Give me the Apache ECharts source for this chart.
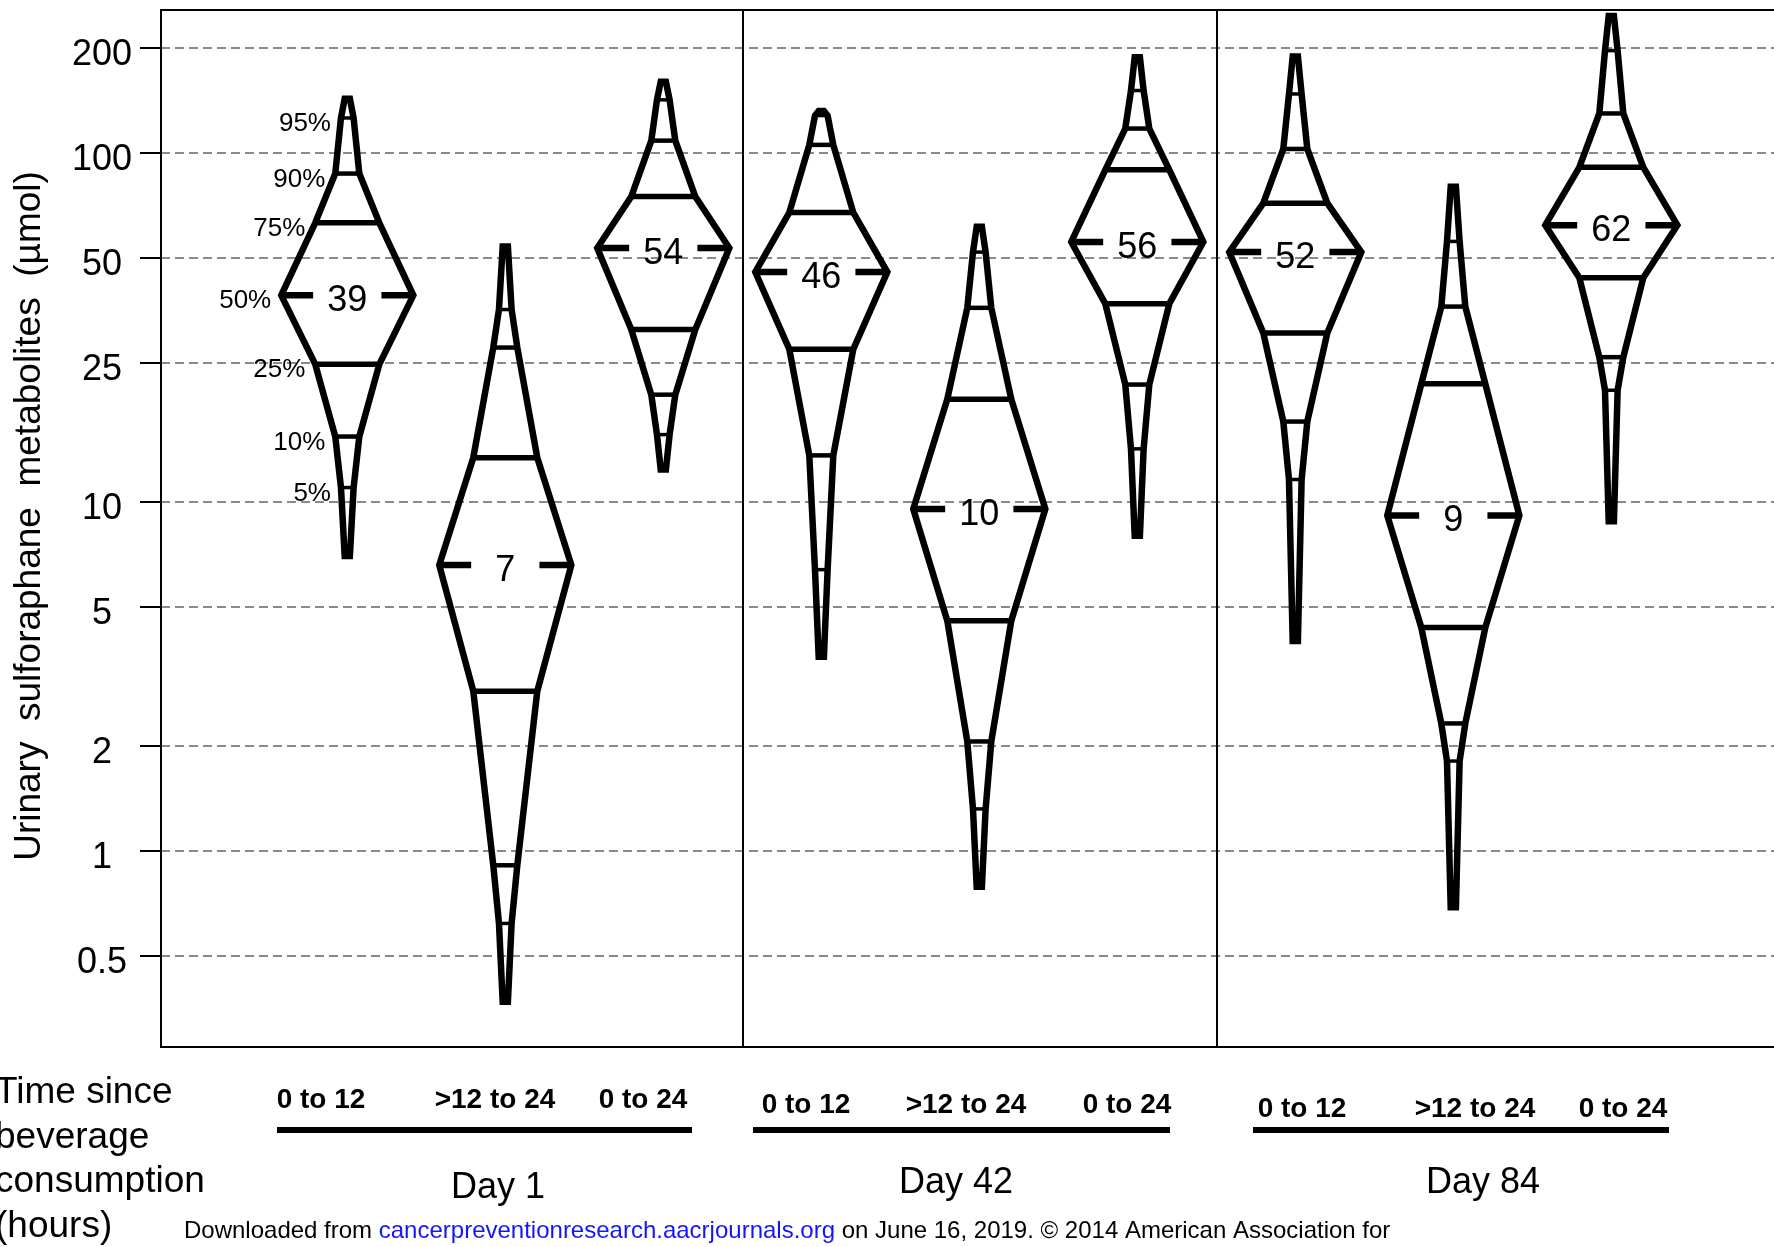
<!DOCTYPE html>
<html>
<head>
<meta charset="utf-8">
<title>Urinary sulforaphane metabolites</title>
<script src="https://cdn.jsdelivr.net/npm/echarts@6.0.0/dist/echarts.min.js"></script>
<style>
  html, body { margin: 0; padding: 0; background: #fff; }
  #chart { width: 1774px; height: 1247px; }
</style>
</head>
<body>
<div id="chart"></div>
<script>
// diamond plots of urinary sulforaphane metabolites, log scale
var chart = echarts.init(document.getElementById('chart'));

var FONT = "'Liberation Sans', Arial, sans-serif";

var tickValues = [0.5, 1, 2, 5, 10, 25, 50, 100, 200];
var categories = ['0 to 12', '>12 to 24', '0 to 24', '0 to 12', '>12 to 24', '0 to 24', '0 to 12', '>12 to 24', '0 to 24'];
var days = ['Day 1', 'Day 42', 'Day 84'];
var pctNames = ['5%', '10%', '25%', '50%', '75%', '90%', '95%'];
var medianLabels = [39, 7, 54, 46, 10, 56, 52, 9, 62];

// percentiles (µmol)
var pMin = [7.0, 0.37, 12.4, 3.6, 0.79, 8.0, 4.0, 0.69, 8.8];
var p05 = [11.0, 0.62, 15.6, 6.4, 1.32, 14.2, 11.6, 1.81, 20.9];
var p10 = [15.4, 0.91, 20.3, 13.6, 2.06, 21.7, 17.0, 2.32, 26.0];
var p25 = [24.8, 2.87, 31.2, 27.4, 4.57, 37.0, 30.5, 4.37, 43.9];
var p50 = [39.1, 6.6, 53.4, 45.6, 9.55, 55.6, 52.0, 9.15, 62.1];
var p75 = [63.1, 13.4, 75.0, 67.5, 19.7, 89.5, 71.8, 21.8, 91.0];
var p90 = [87.3, 27.7, 108.5, 105.5, 36.0, 117.5, 102.7, 36.3, 129.8];
var p95 = [126, 35.6, 142, 128, 52, 151, 147.6, 55.8, 196.5];
var pMax = [143, 54, 160, 132, 61.5, 188, 189, 80, 247];

// shape of a diamond: half width (x units) and stroke per level, min..max
var halfW = [0.0165, 0.04, 0.076, 0.2025, 0.418, 0.2025, 0.076, 0.04, 0.0165];
var levelWidth = [0, 3.5, 4.5, 5.5, 6.5, 5.5, 4.5, 3.5, 0];
var medianInner = 0.216;

var log10 = function (v) { return Math.log(v) / Math.LN10; };

var diamondData = categories.map(function (c, i) {
  return [i, pMin[i], p05[i], p10[i], p25[i], p50[i], p75[i], p90[i], p95[i], pMax[i]].map(function (v, k) {
    return k === 0 ? v : log10(v);
  });
});

function renderDiamond(params, api) {
  var i = api.value(0);
  var lv = [];
  for (var k = 0; k < 9; k++) lv.push(api.value(k + 1));
  var left = [], right = [];
  for (var k = 0; k < 9; k++) {
    left.push(api.coord([i - halfW[k], lv[k]]));
    right.unshift(api.coord([i + halfW[k], lv[k]]));
  }
  var children = [{
    type: 'polygon',
    shape: { points: left.concat(right) },
    style: { fill: 'none', stroke: '#000', lineWidth: 6.5, lineJoin: 'miter' }
  }];
  [1, 2, 3, 5, 6, 7].forEach(function (k) {
    var a = api.coord([i - halfW[k], lv[k]]);
    var b = api.coord([i + halfW[k], lv[k]]);
    children.push({
      type: 'line',
      shape: { x1: a[0], y1: a[1], x2: b[0], y2: b[1] },
      style: { stroke: '#000', lineWidth: levelWidth[k] }
    });
  });
  // broken median line with the value in the gap
  [-1, 1].forEach(function (s) {
    var a = api.coord([i + s * halfW[4], lv[4]]);
    var b = api.coord([i + s * medianInner, lv[4]]);
    children.push({
      type: 'line',
      shape: { x1: a[0], y1: a[1], x2: b[0], y2: b[1] },
      style: { stroke: '#000', lineWidth: levelWidth[4] }
    });
  });
  var m = api.coord([i, lv[4]]);
  children.push({
    type: 'text', x: m[0], y: m[1] + 6,
    style: { text: String(medianLabels[params.dataIndex]), fill: '#000', fontSize: 36, fontFamily: FONT, align: 'center', verticalAlign: 'middle' }
  });
  // percentile names on the first diamond only
  if (params.dataIndex === 0) {
    pctNames.forEach(function (name, j) {
      var k = j + 1;
      var p = api.coord([i - halfW[k], lv[k]]);
      children.push({
        type: 'text', x: p[0] - 10, y: p[1] + 6,
        style: { text: name, fill: '#000', fontSize: 26, fontFamily: FONT, align: 'right', verticalAlign: 'middle' }
      });
    });
  }
  return { type: 'group', children: children };
}

// bottom annotations (pixel layout)
var subLabelX = [321, 495, 643, 806, 966, 1127, 1302, 1475, 1623];
var subLabelY = [1100, 1105, 1109];
var dayX = [498, 956, 1483];
var dayY = [1188, 1183, 1183];
var underline = [[277, 692], [753, 1170], [1253, 1669]];
var leftLines = ['Time since', 'beverage', 'consumption', '(hours)'];

var graphics = [];
graphics.push({
  type: 'text', x: 30, y: 516, rotation: Math.PI / 2,
  style: { text: 'Urinary  sulforaphane  metabolites  (µmol)', fill: '#000', fontSize: 37, fontFamily: FONT, align: 'center', verticalAlign: 'middle' }
});
categories.forEach(function (c, i) {
  graphics.push({
    type: 'text', x: subLabelX[i], y: subLabelY[Math.floor(i / 3)],
    style: { text: c, fill: '#000', fontSize: 28, fontWeight: 'bold', fontFamily: FONT, align: 'center', verticalAlign: 'middle' }
  });
});
days.forEach(function (d, j) {
  graphics.push({
    type: 'text', x: dayX[j], y: dayY[j],
    style: { text: d, fill: '#000', fontSize: 36, fontFamily: FONT, align: 'center', verticalAlign: 'middle' }
  });
  graphics.push({
    type: 'line', shape: { x1: underline[j][0], y1: 1130, x2: underline[j][1], y2: 1130 },
    style: { stroke: '#000', lineWidth: 6 }
  });
});
leftLines.forEach(function (t, j) {
  graphics.push({
    type: 'text', x: -5, y: 1093 + j * 44.5,
    style: { text: t, fill: '#000', fontSize: 37, fontFamily: FONT, align: 'left', verticalAlign: 'middle' }
  });
});
graphics.push({
  type: 'text', x: 184, y: 1231,
  style: {
    text: '{a|Downloaded from }{b|cancerpreventionresearch.aacrjournals.org}{a| on June 16, 2019. © 2014 American Association for}',
    align: 'left', verticalAlign: 'middle',
    rich: {
      a: { fill: '#000', fontSize: 24, fontFamily: FONT },
      b: { fill: '#1414ff', fontSize: 24, fontFamily: FONT }
    }
  }
});
graphics.push({
  type: 'text', x: 786, y: 1259,
  style: { text: 'Cancer Research.', fill: '#000', fontSize: 24, fontFamily: FONT, align: 'center', verticalAlign: 'middle' }
});

var tickLogs = tickValues.map(log10);

var option = {
  animation: false,
  backgroundColor: '#fff',
  grid: {
    left: 161, right: -1, top: 10, bottom: 200,
    show: true, borderColor: '#000', borderWidth: 2,
    containLabel: false, outerBoundsMode: 'none'
  },
  xAxis: { type: 'value', min: -1.179, max: 9.036, show: false },
  yAxis: {
    type: 'value', min: -0.5616, max: 2.4097,
    axisLine: { show: true, onZero: false, lineStyle: { color: '#000', width: 2 } },
    axisTick: { show: true, inside: false, length: 21, customValues: tickLogs, lineStyle: { color: '#000', width: 2 } },
    axisLabel: {
      customValues: tickLogs,
      formatter: function (v) { return '{t|' + (+Math.pow(10, v).toPrecision(3)) + '}'; },
      align: 'center', verticalAlign: 'middle', margin: 59,
      rich: {
        t: { color: '#000', fontSize: 36, fontFamily: FONT, padding: [14, 0, 0, 0] }
      }
    },
    splitLine: { show: true, lineStyle: { color: '#8a8a8a', width: 2, type: [9, 5] } }
  },
  series: [
    {
      type: 'custom',
      renderItem: renderDiamond,
      encode: { x: 0, y: [1, 2, 3, 4, 5, 6, 7, 8, 9] },
      data: diamondData,
      z: 5
    },
    {
      type: 'line',
      data: [],
      markLine: {
        silent: true, symbol: ['none', 'none'], label: { show: false },
        lineStyle: { color: '#000', width: 2, type: 'solid' },
        data: [{ xAxis: 2.5 }, { xAxis: 5.5 }]
      }
    }
  ],
  graphic: graphics
};
chart.setOption(option);
</script>
</body>
</html>
